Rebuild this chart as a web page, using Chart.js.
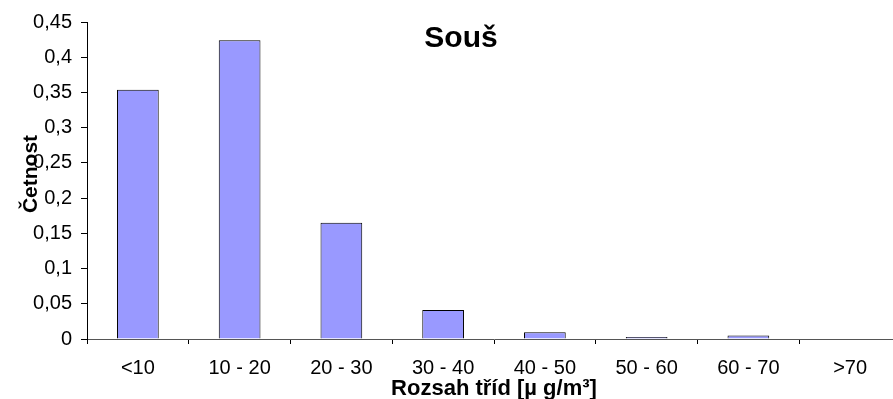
<!DOCTYPE html>
<html><head><meta charset="utf-8">
<script src="https://cdn.jsdelivr.net/npm/chart.js@4/dist/chart.umd.min.js"></script>
<style>
html,body{margin:0;padding:0;background:#fff;overflow:hidden;width:893px;height:399px;}
#wrap{position:absolute;left:0;top:0;width:905px;height:399px;}
</style></head>
<body>
<div id="wrap"><canvas id="c" width="905" height="399"></canvas></div>
<script>
const categories = ['<10', '10 - 20', '20 - 30', '30 - 40', '40 - 50', '50 - 60', '60 - 70', '>70'];
const frequency = [0.354, 0.424, 0.165, 0.041, 0.0095, 0.003, 0.005, 0];
const chartTitle = 'Souš';
const yTitle = 'Četnost';
const xTitle = 'Rozsah tříd [µ g/m³]';
const FONT = '"Liberation Sans", Arial, sans-serif';

const textPlugin = {
  id: 'innerTexts',
  afterDraw(chart) {
    const ctx = chart.ctx;
    ctx.save();
    ctx.fillStyle = '#000';
    ctx.font = 'bold 30px ' + FONT;
    ctx.textAlign = 'center';
    ctx.textBaseline = 'alphabetic';
    ctx.fillText(chartTitle, 461, 47);
    ctx.restore();

    ctx.save();
    ctx.fillStyle = '#000';
    ctx.font = 'bold 21px ' + FONT;
    ctx.translate(37, 174);
    ctx.rotate(-Math.PI / 2);
    ctx.textAlign = 'center';
    ctx.textBaseline = 'alphabetic';
    ctx.fillText(yTitle, 0, 0);
    ctx.restore();
  }
};

new Chart(document.getElementById('c'), {
  type: 'bar',
  data: {
    labels: categories,
    datasets: [{
      data: frequency,
      backgroundColor: '#9999FF',
      borderColor: '#000000',
      borderWidth: 1,
      barPercentage: 0.41,
      categoryPercentage: 1.0
    }]
  },
  options: {
    responsive: false,
    animation: false,
    layout: { padding: { top: 22, right: 4, left: 0, bottom: 0 } },
    plugins: { legend: { display: false }, tooltip: { enabled: false } },
    scales: {
      x: {
        offset: true,
        grid: { display: true, offset: true, drawOnChartArea: false, drawTicks: true, tickLength: 5, color: '#000' },
        border: { display: true, color: '#555', width: 1 },
        ticks: { color: '#000', font: { family: FONT, size: 20 }, padding: 12, maxRotation: 0, autoSkip: false },
        title: { display: true, text: xTitle, color: '#000', font: { family: FONT, size: 22, weight: 'bold' }, padding: { top: 0, bottom: -3 } },
        afterFit(s) { s.height = 60; }
      },
      y: {
        min: 0, max: 0.45,
        ticks: {
          stepSize: 0.05, color: '#000', font: { family: FONT, size: 20 }, padding: 9,
          callback: v => (Math.round(v * 100) / 100).toString().replace('.', ',')
        },
        grid: { display: true, drawOnChartArea: false, drawTicks: true, tickLength: 6, color: '#000' },
        border: { display: true, color: '#000', width: 1 },
        title: { display: false },
        afterFit(s) { s.width = 87; }
      }
    }
  },
  plugins: [textPlugin]
});
</script>
</body></html>
